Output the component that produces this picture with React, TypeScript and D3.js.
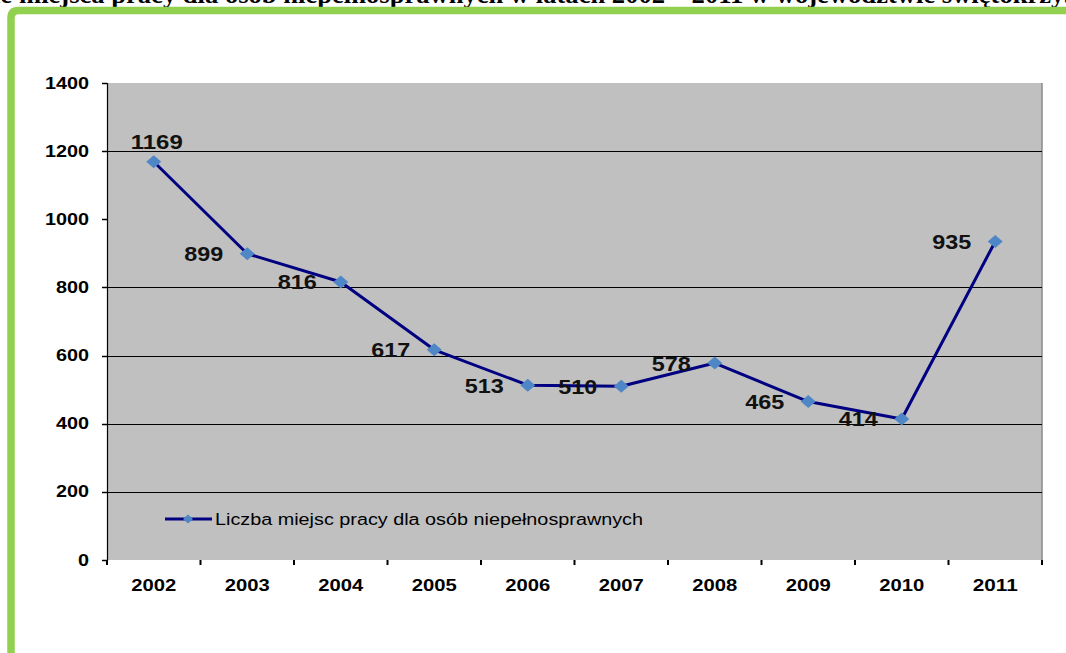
import React from "react";
import * as d3 from "d3";

const years = ["2002", "2003", "2004", "2005", "2006", "2007", "2008", "2009", "2010", "2011"];
const values = [1169, 899, 816, 617, 513, 510, 578, 465, 414, 935];
const yTicks = [0, 200, 400, 600, 800, 1000, 1200, 1400];
const gridValues = [200, 400, 600, 800, 1200];
const seriesName = "Liczba miejsc pracy dla osób niepełnosprawnych";
const titleHead = "Wolne";
const titleRest = "miejsca pracy dla osób niepełnosprawnych w latach 2002 – 2011 w województwie świętokrzyskim";

const W = 1066;
const H = 653;
const plot = { left: 107, right: 1042, top: 83, bottom: 560 };

export default function App() {
  const x = d3.scaleBand<string>().domain(years).range([plot.left, plot.right]).padding(0);
  const y = d3.scaleLinear().domain([0, 1400]).range([plot.bottom, plot.top]);
  const cx = (i: number) => (x(years[i]) as number) + x.bandwidth() / 2;
  const line = d3
    .line<number>()
    .x((_, i) => cx(i))
    .y((d) => y(d));
  const diamond = (px: number, py: number, hw = 7.5, hh = 6.5) =>
    `M${px},${py - hh} L${px + hw},${py} L${px},${py + hh} L${px - hw},${py} Z`;
  const sans = "Arial, 'Liberation Sans', sans-serif";
  const serif = "'Liberation Serif', 'Times New Roman', serif";
  const boundaries = [...years.map((yr) => x(yr) as number), plot.right];

  return (
    <svg
      width={W}
      height={H}
      style={{ position: "fixed", left: 0, top: 0, display: "block", background: "#fff" }}
    >
      {/* title (cut at top, as in the reference) */}
      <text x={12} y={3} textAnchor="end" fontFamily={serif} fontWeight="bold" fontSize={26}>
        {titleHead}
      </text>
      <text
        x={19}
        y={3}
        fontFamily={serif}
        fontWeight="bold"
        fontSize={26}
        textLength={1100}
        lengthAdjust="spacingAndGlyphs"
      >
        {titleRest}
      </text>
      {/* green frame */}
      <path
        d={`M11,${H + 10} L11,18 Q11,10.5 18.5,10.5 L${W + 10},10.5`}
        fill="none"
        stroke="#92D050"
        strokeWidth={7.5}
      />
      {/* plot area */}
      <rect
        x={plot.left}
        y={plot.top}
        width={plot.right - plot.left}
        height={plot.bottom - plot.top}
        fill="#C0C0C0"
      />
      <line x1={plot.right} x2={plot.right} y1={plot.top} y2={plot.bottom} stroke="#8a8a8a" strokeWidth={1.5} />
      {gridValues.map((v) => (
        <line
          key={v}
          x1={plot.left}
          x2={plot.right}
          y1={Math.round(y(v)) + 0.5}
          y2={Math.round(y(v)) + 0.5}
          stroke="#000"
          strokeWidth={1}
        />
      ))}
      {/* y axis */}
      <line x1={plot.left + 0.5} x2={plot.left + 0.5} y1={plot.top} y2={plot.bottom + 1} stroke="#000" strokeWidth={1.2} />
      {yTicks.map((v) => (
        <g key={v}>
          <line
            x1={plot.left - 5}
            x2={plot.left}
            y1={Math.round(y(v)) + 0.5}
            y2={Math.round(y(v)) + 0.5}
            stroke="#000"
            strokeWidth={1.5}
          />
          <text
            x={89}
            y={y(v) + 5.5}
            textAnchor="end"
            fontFamily={sans}
            fontWeight="bold"
            fontSize={16}
            textLength={String(v).length * 11}
            lengthAdjust="spacingAndGlyphs"
          >
            {v}
          </text>
        </g>
      ))}
      {/* x axis ticks */}
      {boundaries.map((bx, i) => (
        <line key={i} x1={bx} x2={bx} y1={plot.bottom} y2={plot.bottom + 5} stroke="#000" strokeWidth={2} />
      ))}
      {years.map((yr, i) => (
        <text
          key={yr}
          x={cx(i)}
          y={591}
          textAnchor="middle"
          fontFamily={sans}
          fontWeight="bold"
          fontSize={17}
          textLength={45}
          lengthAdjust="spacingAndGlyphs"
        >
          {yr}
        </text>
      ))}
      {/* series */}
      <path d={line(values) || ""} fill="none" stroke="#000080" strokeWidth={3} strokeLinejoin="round" />
      {values.map((v, i) => (
        <path key={i} d={diamond(cx(i), y(v))} fill="#4F86C6" />
      ))}
      {/* data labels */}
      {values.map((v, i) => {
        const s = String(v);
        const tl = s.length * 13;
        const first = i === 0;
        return (
          <text
            key={i}
            x={first ? cx(i) + 3 : cx(i) - 24}
            y={first ? y(v) - 13 : y(v) + 7.5}
            textAnchor={first ? "middle" : "end"}
            fontFamily={sans}
            fontWeight="bold"
            fontSize={20}
            textLength={tl}
            lengthAdjust="spacingAndGlyphs"
            fill="#111"
          >
            {s}
          </text>
        );
      })}
      {/* legend */}
      <line x1={165} x2={212} y1={519} y2={519} stroke="#000080" strokeWidth={3} />
      <path d={diamond(188, 519, 5, 4.5)} fill="#4F86C6" />
      <text
        x={215}
        y={524.5}
        fontFamily={sans}
        fontSize={16}
        textLength={428}
        lengthAdjust="spacingAndGlyphs"
        fill="#000"
      >
        {seriesName}
      </text>
    </svg>
  );
}
